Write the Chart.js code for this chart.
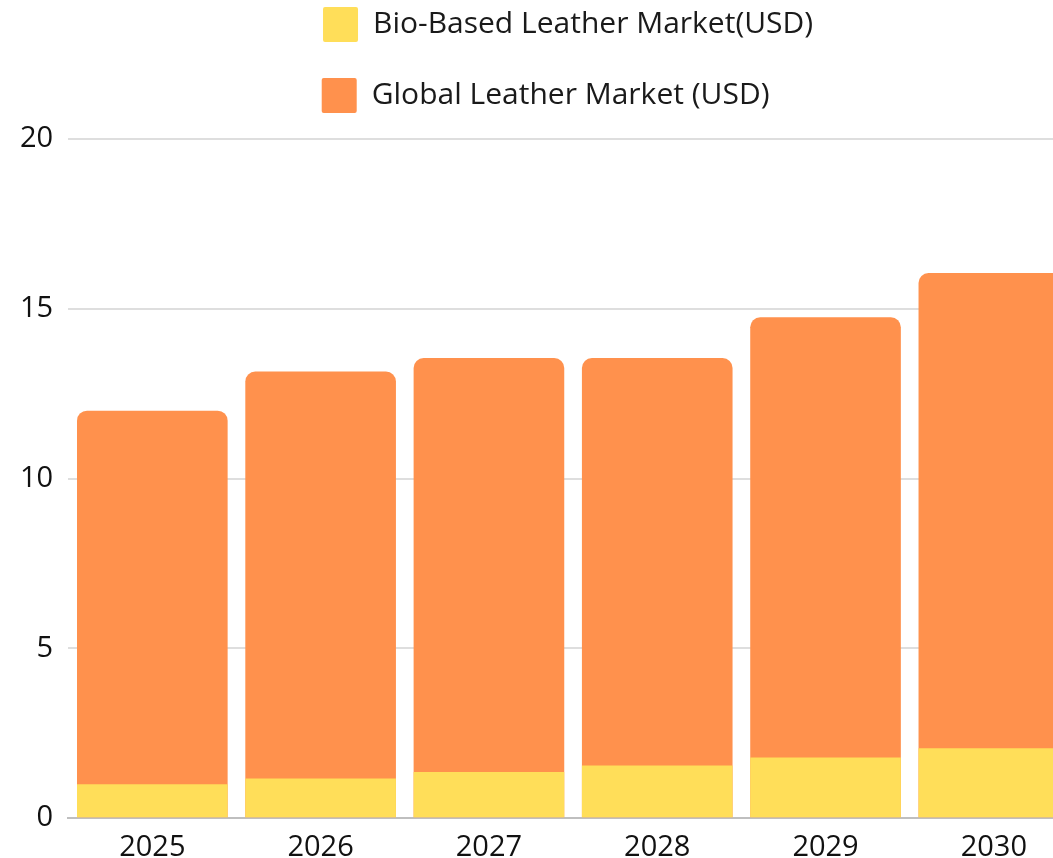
<!DOCTYPE html>
<html>
<head>
<meta charset="utf-8">
<title>Leather market</title>
<script src="https://cdn.jsdelivr.net/npm/chart.js@4.4.1/dist/chart.umd.min.js"></script>
<style>
  html, body { margin: 0; padding: 0; background: #fff; overflow: hidden; }
  #wrap { width: 1078px; height: 858px; }
</style>
</head>
<body>
<div id="wrap"><canvas id="chart"></canvas></div>
<script>
const YEARS = ['2025', '2026', '2027', '2028', '2029', '2030'];
const BIO_BASED = [1.0, 1.17, 1.36, 1.55, 1.79, 2.06];
const GLOBAL = [12.0, 13.15, 13.55, 13.55, 14.75, 16.05];
const Y_TICKS = [0, 5, 10, 15, 20];

// trailing spaces so the two legend rows wrap and line up on the left
const LEGEND_PAD = ['\u2009\u2009', '\u2002\u2002\u2002\u2009\u2009'];

const FONT = "'Open Sans', sans-serif";

new Chart(document.getElementById('chart'), {
    type: 'bar',
    data: {
        labels: YEARS,
        datasets: [
            {
                label: 'Bio-Based Leather Market(USD)',
                data: BIO_BASED,
                backgroundColor: '#FFDE59',
                borderWidth: 0,
                borderRadius: 0,
            },
            {
                label: 'Global Leather Market (USD)',
                data: GLOBAL,
                backgroundColor: '#FF914D',
                borderWidth: 0,
                borderRadius: 10,
                borderSkipped: 'start',
            },
        ]
    },
    options: {
        responsive: true,
        maintainAspectRatio: false,
        animation: false,
        barPercentage: 0.895,
        categoryPercentage: 1,
        layout: {
            padding: {top: -29, left: 5, right: 0, bottom: -19}
        },
        scales: {
            x: {
                stacked: true,
                grid: {display: false, drawTicks: false},
                border: {display: true, color: '#bfbfbf', width: 2},
                ticks: {
                    color: '#111',
                    padding: 12,
                    font: {family: FONT, size: 29},
                },
            },
            y: {
                stacked: false,
                min: 0,
                max: 20.47,
                afterBuildTicks: scale => {
                    scale.ticks = Y_TICKS.map(v => ({value: v}));
                },
                grid: {color: '#dedede', lineWidth: 2, drawTicks: false},
                border: {display: false},
                ticks: {
                    color: '#111',
                    padding: 15,
                    font: {family: FONT, size: 29},
                },
            },
        },
        plugins: {
            legend: {
                position: 'top',
                fullSize: false,
                labels: {
                    boxWidth: 35,
                    boxHeight: 35,
                    padding: 36,
                    useBorderRadius: true,
                    borderRadius: 2,
                    color: '#1a1a1a',
                    font: {family: FONT, size: 30},
                    generateLabels: chart => {
                        const items = Chart.defaults.plugins.legend.labels.generateLabels(chart);
                        items.forEach((item, i) => { item.text += LEGEND_PAD[i]; });
                        return items;
                    },
                },
            },
            tooltip: {enabled: false},
        },
    }
});
</script>
</body>
</html>
